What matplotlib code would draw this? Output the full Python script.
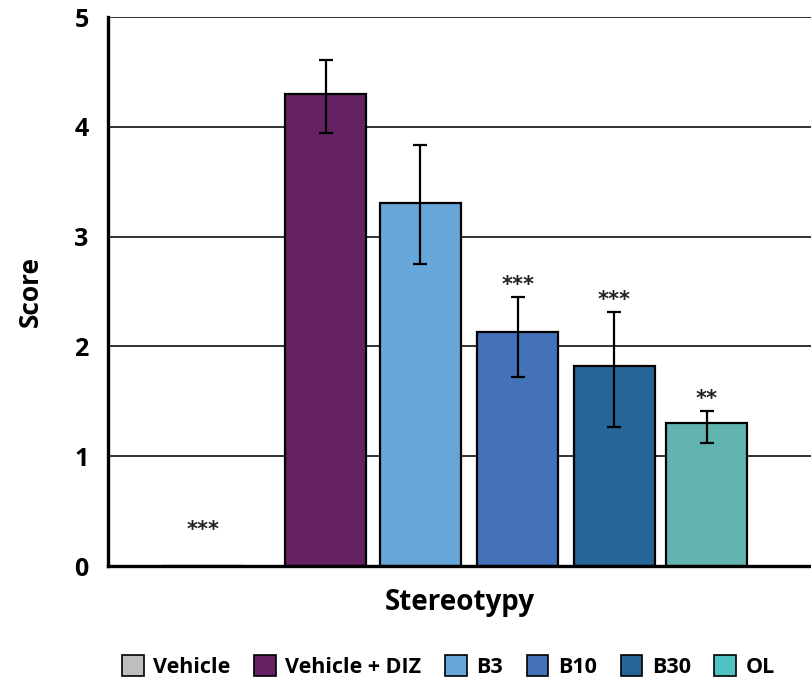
import numpy as np
import matplotlib.pyplot as plt
from matplotlib.patches import Patch

plt.rcParams['font.family'] = ['Open Sans', 'DejaVu Sans']

groups = ['Vehicle', 'Vehicle + DIZ', 'B3', 'B10', 'B30', 'OL']
scores = [0.0, 4.30, 3.31, 2.13, 1.82, 1.30]
sem_up = [0.0, 0.31, 0.52, 0.32, 0.49, 0.11]
sem_down = [0.0, 0.36, 0.56, 0.41, 0.55, 0.18]
stars = ['***', '', '', '***', '***', '**']
x_pos = [-0.27, 1.0, 1.98, 2.99, 3.99, 4.95]

bar_colors = ['#BEBEBE', '#642262', '#66A6D9', '#4472B8', '#276598', '#62B4B1']
legend_colors = ['#BEBEBE', '#642262', '#66A6D9', '#4472B8', '#276598', '#4FC3C3']

fig = plt.figure(figsize=(8.11, 6.82), dpi=100)
ax = fig.add_axes([108 / 811, 116 / 682, 1 - 108 / 811, (566 - 17) / 682])

ax.set_axisbelow(True)
ax.yaxis.grid(True, color='#222222', linewidth=1.3)
ax.bar(x_pos, scores, width=0.84, color=bar_colors, edgecolor='black',
       linewidth=1.6, zorder=2)
ax.errorbar(x_pos[1:], scores[1:], yerr=[sem_down[1:], sem_up[1:]], fmt='none',
            ecolor='black', elinewidth=1.6, capsize=4.8, capthick=1.6, zorder=3)

for x, s, e, lab in zip(x_pos, scores, sem_up, stars):
    if not lab:
        continue
    y = 0.24 if s == 0 else s + e + 0.02
    ax.text(x, y, lab, ha='center', va='bottom', fontsize=15, fontweight='bold',
            family='DejaVu Sans', color='#222222')

ax.set_xlim(-1.254, 6.03)
ax.set_ylim(0, 5)
ax.set_yticks([0, 1, 2, 3, 4, 5])
ax.set_xticks([])
ax.tick_params(axis='y', length=0, pad=14, labelsize=18)
for t in ax.get_yticklabels():
    t.set_fontweight('bold')

for side in ['top', 'right']:
    ax.spines[side].set_visible(False)
ax.spines['left'].set_linewidth(2.4)
ax.spines['bottom'].set_linewidth(2.4)

ax.set_ylabel('Score', fontsize=19, fontweight='bold', labelpad=22)
ax.set_xlabel('Stereotypy', fontsize=20, fontweight='bold', labelpad=16)

handles = [Patch(facecolor=c, edgecolor='black', linewidth=1.2) for c in legend_colors]
fig.legend(handles, groups, loc='lower center', bbox_to_anchor=(0.553, -0.022),
           ncol=6, frameon=False, prop={'size': 15.5, 'weight': 'bold'},
           handlelength=1.0, handleheight=1.15, handletextpad=0.45, columnspacing=1.1)

fig.savefig('out.png', dpi=100)
